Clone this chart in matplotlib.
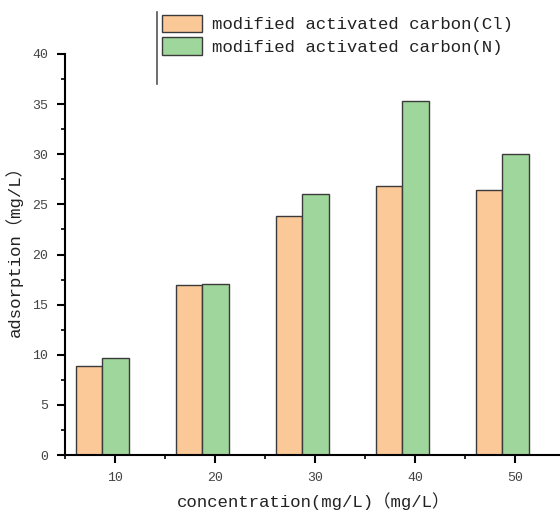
import matplotlib
matplotlib.use("Agg")
import matplotlib.pyplot as plt
from matplotlib.lines import Line2D
from matplotlib.ticker import MultipleLocator, FixedLocator
import numpy as np

plt.rcParams['font.family'] = ['Liberation Mono', 'Noto Sans CJK SC', 'DejaVu Sans']

concentrations = [10, 20, 30, 40, 50]
cl_values = [8.85, 16.95, 23.8, 26.8, 26.4]
n_values = [9.7, 17.05, 26.05, 35.3, 30.05]
series_labels = ['modified activated carbon(Cl)', 'modified activated carbon(N)']
x_label = 'concentration(mg/L)\uff08mg/L\uff09'
y_label = 'adsorption\uff08mg/L\uff09'

W, H = 560, 514
fig = plt.figure(figsize=(W / 100, H / 100), dpi=100)
ax = fig.add_axes([65 / W, (H - 455) / H, (W - 65) / W, (455 - 54) / H])

x = np.array(concentrations, dtype=float)
bw = 2.68
ax.bar(x - 2.6, cl_values, width=bw, color='#FBC898', edgecolor='#3a3a3a', linewidth=1.0,
       label=series_labels[0], zorder=2)
ax.bar(x + 0.07, n_values, width=bw, color='#9FD69B', edgecolor='#3a3a3a', linewidth=1.0,
       label=series_labels[1], zorder=2)

ax.set_xlim(5, 54.5)
ax.set_ylim(0, 40)
for s in ['top', 'right']:
    ax.spines[s].set_visible(False)
for s in ['left', 'bottom']:
    ax.spines[s].set_linewidth(1.5)
    ax.spines[s].set_color('#000000')

ax.xaxis.set_major_locator(FixedLocator(concentrations))
ax.xaxis.set_minor_locator(FixedLocator([5, 15, 25, 35, 45]))
ax.yaxis.set_major_locator(MultipleLocator(5))
ax.yaxis.set_minor_locator(MultipleLocator(2.5))
ax.tick_params(axis='both', which='major', direction='out', length=6, width=1.5,
               labelsize=9.5, labelcolor='#444444', pad=6)
ax.tick_params(axis='both', which='minor', direction='out', length=3, width=1.2)

ax.set_xlabel(x_label, fontsize=12.5, color='#222222')
ax.xaxis.set_label_coords((314 - 65) / 495, -(501 - 455) / 401)
ax.xaxis.label.set_va('center')
ax.set_ylabel(y_label, fontsize=12.5, color='#222222')
ax.yaxis.set_label_coords((23 - 65) / 495, (455 - 247) / 401)

leg = fig.legend(loc='upper left', bbox_to_anchor=(162 / W, 1 - 15 / H),
                 bbox_transform=fig.transFigure, frameon=False, fontsize=12.5,
                 handlelength=2.3, handleheight=1.15, handletextpad=0.6,
                 labelspacing=0.28, borderpad=0, borderaxespad=0)
for t in leg.get_texts():
    t.set_color('#222222')

fig.add_artist(Line2D([157 / W, 157 / W], [1 - 12 / H, 1 - 84 / H],
                      transform=fig.transFigure, color='#555555', linewidth=1.2))

fig.savefig('out.png', dpi=100)
